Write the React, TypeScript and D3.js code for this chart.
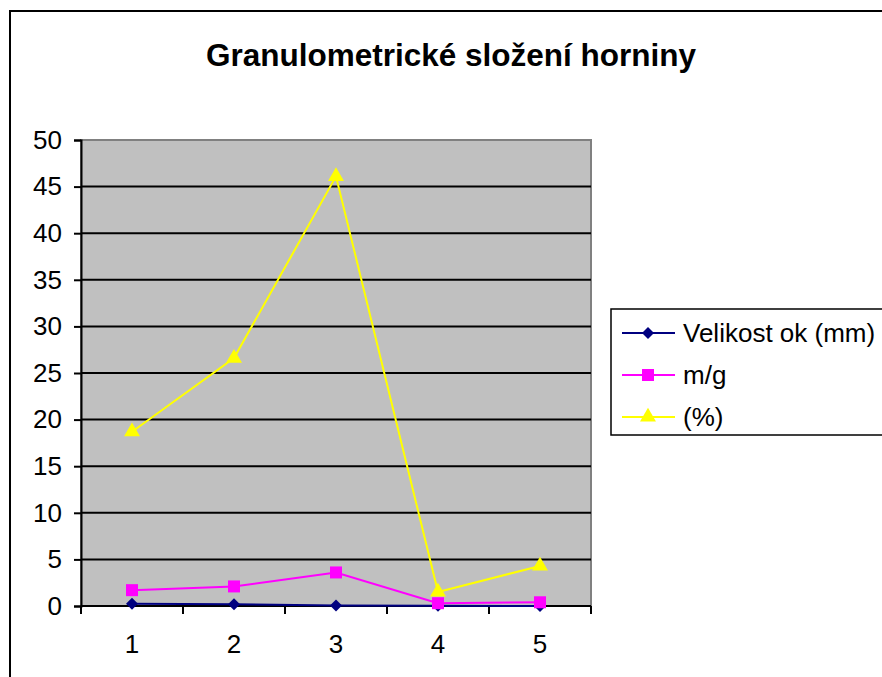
import React, { useEffect, useRef } from 'react'
import * as d3 from 'd3'

const categories = ['1', '2', '3', '4', '5']
const velikost = [0.25, 0.2, 0.05, 0.02, 0.01]
const massG = [1.7, 2.1, 3.6, 0.3, 0.4]
const percent = [18.7, 26.6, 46.1, 1.5, 4.3]
const yTicks = [0, 5, 10, 15, 20, 25, 30, 35, 40, 45, 50]
const seriesNames = ['Velikost ok (mm)', 'm/g', '(%)']

const W = 882
const H = 677
const font = 'Liberation Sans, Arial, sans-serif'

const App: React.FC = () => {
    const ref = useRef<any>()
    useEffect(() => {
        const svg = d3.select(ref.current)
        svg.selectAll('*').remove()

        const left = 81
        const right = 591
        const top = 140
        const bottom = 606

        const x = d3.scaleBand().domain(categories).range([left, right])
        const y = d3.scaleLinear().domain([0, 50]).range([bottom, top])

        // outer chart frame
        svg.append('rect')
            .attr('x', 10).attr('y', 11)
            .attr('width', 900).attr('height', 700)
            .attr('fill', 'white')
            .attr('stroke', 'black').attr('stroke-width', 2)

        svg.append('text')
            .attr('x', 451).attr('y', 66)
            .attr('text-anchor', 'middle')
            .attr('font-family', font)
            .attr('font-weight', 'bold')
            .attr('font-size', 31.5)
            .text('Granulometrické složení horniny')

        // plot area
        svg.append('rect')
            .attr('x', left).attr('y', top)
            .attr('width', right - left).attr('height', bottom - top)
            .attr('fill', '#C0C0C0')
            .attr('stroke', '#808080').attr('stroke-width', 2)

        svg.append('g')
            .selectAll('line')
            .data(yTicks.filter((t) => t > 0 && t < 50))
            .join('line')
            .attr('x1', left).attr('x2', right)
            .attr('y1', (d) => y(d)).attr('y2', (d) => y(d))
            .attr('stroke', 'black').attr('stroke-width', 2)

        // y axis
        const yAxis = svg.append('g')
            .attr('transform', `translate(${left},0)`)
            .call(d3.axisLeft(y).tickValues(yTicks).tickSize(7).tickPadding(12))
        yAxis.select('.domain').attr('stroke-width', 2)
        yAxis.selectAll('.tick line').attr('stroke-width', 2)
        yAxis.selectAll('text')
            .attr('font-family', font).attr('font-size', 26).attr('fill', 'black')

        // x axis
        const xAxis = svg.append('g')
            .attr('transform', `translate(0,${bottom})`)
        xAxis.append('line')
            .attr('x1', left).attr('x2', right)
            .attr('stroke', 'black').attr('stroke-width', 2)
        const bounds = categories.map((c) => x(c) as number).concat([right])
        xAxis.selectAll('line.tk')
            .data(bounds)
            .join('line')
            .attr('class', 'tk')
            .attr('x1', (d) => d).attr('x2', (d) => d)
            .attr('y1', 0).attr('y2', 8)
            .attr('stroke', 'black').attr('stroke-width', 2)
        xAxis.selectAll('text')
            .data(categories)
            .join('text')
            .attr('x', (d) => (x(d) as number) + x.bandwidth() / 2)
            .attr('y', 47)
            .attr('text-anchor', 'middle')
            .attr('font-family', font).attr('font-size', 26)
            .text((d) => d)

        const cx = (i: number) => (x(categories[i]) as number) + x.bandwidth() / 2
        const line = d3.line<number>().x((_, i) => cx(i)).y((d) => y(d))

        const series = [
            { values: velikost, color: '#000080', marker: d3.symbolSquare, size: 72, rot: 45 },
            { values: massG, color: '#FF00FF', marker: d3.symbolSquare, size: 144, rot: 0 },
            { values: percent, color: '#FFFF00', marker: d3.symbolTriangle, size: 110, rot: 0 }
        ]

        const plot = svg.append('g')
        series.forEach((s) => {
            plot.append('path')
                .datum(s.values)
                .attr('fill', 'none')
                .attr('stroke', s.color)
                .attr('stroke-width', 2)
                .attr('d', line)
        })
        series.forEach((s) => {
            plot.append('g')
                .selectAll('path')
                .data(s.values)
                .join('path')
                .attr('transform', (d, i) => `translate(${cx(i)},${y(d)}) rotate(${s.rot})`)
                .attr('d', d3.symbol().type(s.marker).size(s.size)())
                .attr('fill', s.color)
        })

        // legend
        const lg = svg.append('g')
        lg.append('rect')
            .attr('x', 611).attr('y', 309)
            .attr('width', 300).attr('height', 126)
            .attr('fill', 'white')
            .attr('stroke', 'black').attr('stroke-width', 1.5)
        const rowY = d3.scalePoint<number>().domain([0, 1, 2]).range([333, 417])
        series.forEach((s, i) => {
            const yy = rowY(i) as number
            lg.append('line')
                .attr('x1', 622).attr('x2', 675)
                .attr('y1', yy).attr('y2', yy)
                .attr('stroke', s.color).attr('stroke-width', 2)
            lg.append('path')
                .attr('transform', `translate(648,${yy}) rotate(${s.rot})`)
                .attr('d', d3.symbol().type(s.marker).size(s.size)())
                .attr('fill', s.color)
            lg.append('text')
                .attr('x', 683).attr('y', yy + 9)
                .attr('font-family', font).attr('font-size', 26)
                .text(seriesNames[i])
        })
    }, [])
    return (
        <svg
            ref={ref}
            width={W}
            height={H}
            style={{ position: 'absolute', left: 0, top: 0 }}
        />
    )
}

export default App
